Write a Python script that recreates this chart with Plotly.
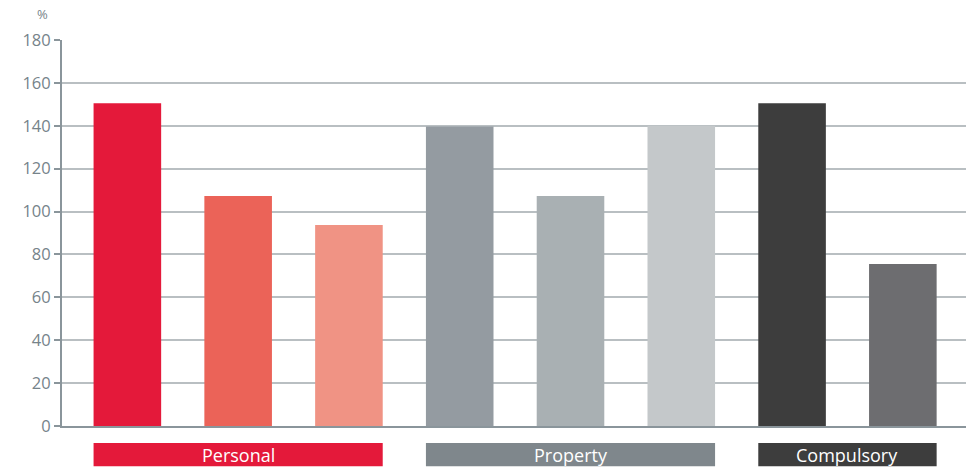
import plotly.graph_objects as go

# ---- data ----
group_names = ["Personal", "Property", "Compulsory"]
group_of_bar = [0, 0, 0, 1, 1, 1, 2, 2]
values = [150.5, 107.3, 93.7, 139.7, 107.3, 140.0, 150.5, 75.6]
bar_colors = ["#e4193a", "#eb6358", "#f09384",
              "#949ba1", "#a9b0b3", "#c4c8ca",
              "#3d3d3d", "#6d6d70"]
group_colors = ["#e4193a", "#7f878c", "#3d3d3d"]
y_ticks = [0, 20, 40, 60, 80, 100, 120, 140, 160, 180]

x = list(range(len(values)))
bar_width = 0.61

fig = go.Figure()
fig.add_trace(go.Bar(
    x=x, y=values, width=bar_width,
    marker=dict(color=bar_colors, line=dict(width=0)),
    hoverinfo="y", showlegend=False,
))

font_family = "Open Sans, Noto Sans, sans-serif"
grey_txt = "#76838a"

shapes = []
annotations = []
for gi, name in enumerate(group_names):
    idx = [i for i, g in enumerate(group_of_bar) if g == gi]
    x0 = min(idx) - bar_width / 2
    x1 = max(idx) + bar_width / 2
    shapes.append(dict(type="rect", xref="x", yref="paper",
                       x0=x0, x1=x1, y0=-0.104, y1=-0.044,
                       fillcolor=group_colors[gi], line=dict(width=0),
                       layer="above"))
    annotations.append(dict(xref="x", yref="paper", x=(x0 + x1) / 2,
                            y=-0.074, text=name, showarrow=False,
                            xanchor="center", yanchor="middle",
                            font=dict(color="white", size=18, family=font_family)))

annotations.append(dict(xref="paper", yref="paper", x=0, y=1, xshift=-20, yshift=26,
                        text="%", showarrow=False, xanchor="center", yanchor="middle",
                        font=dict(color=grey_txt, size=13, family=font_family)))

fig.update_layout(
    width=971, height=467,
    margin=dict(l=62, r=5, t=40, b=41),
    paper_bgcolor="white", plot_bgcolor="white",
    bargap=0.39,
    shapes=shapes, annotations=annotations,
    font=dict(family=font_family, color=grey_txt),
    xaxis=dict(range=[-0.59, 7.57], showticklabels=False, showgrid=False,
               zeroline=False, showline=True, linecolor="#8a959b", linewidth=2,
               ticks=""),
    yaxis=dict(range=[0, 180], tickvals=y_ticks, showgrid=True,
               gridcolor="#b9bfc2", gridwidth=2, zeroline=False,
               showline=True, linecolor="#8a959b", linewidth=2,
               ticks="outside", ticklen=6, tickwidth=2, tickcolor="#8a959b",
               tickfont=dict(size=16.5, color=grey_txt, family=font_family)),
)

fig.write_html(
    "out.html",
    config={"displayModeBar": False},
    post_script="document.body.style.margin='0';document.body.style.padding='0';"
                "document.body.style.overflow='hidden';",
)
